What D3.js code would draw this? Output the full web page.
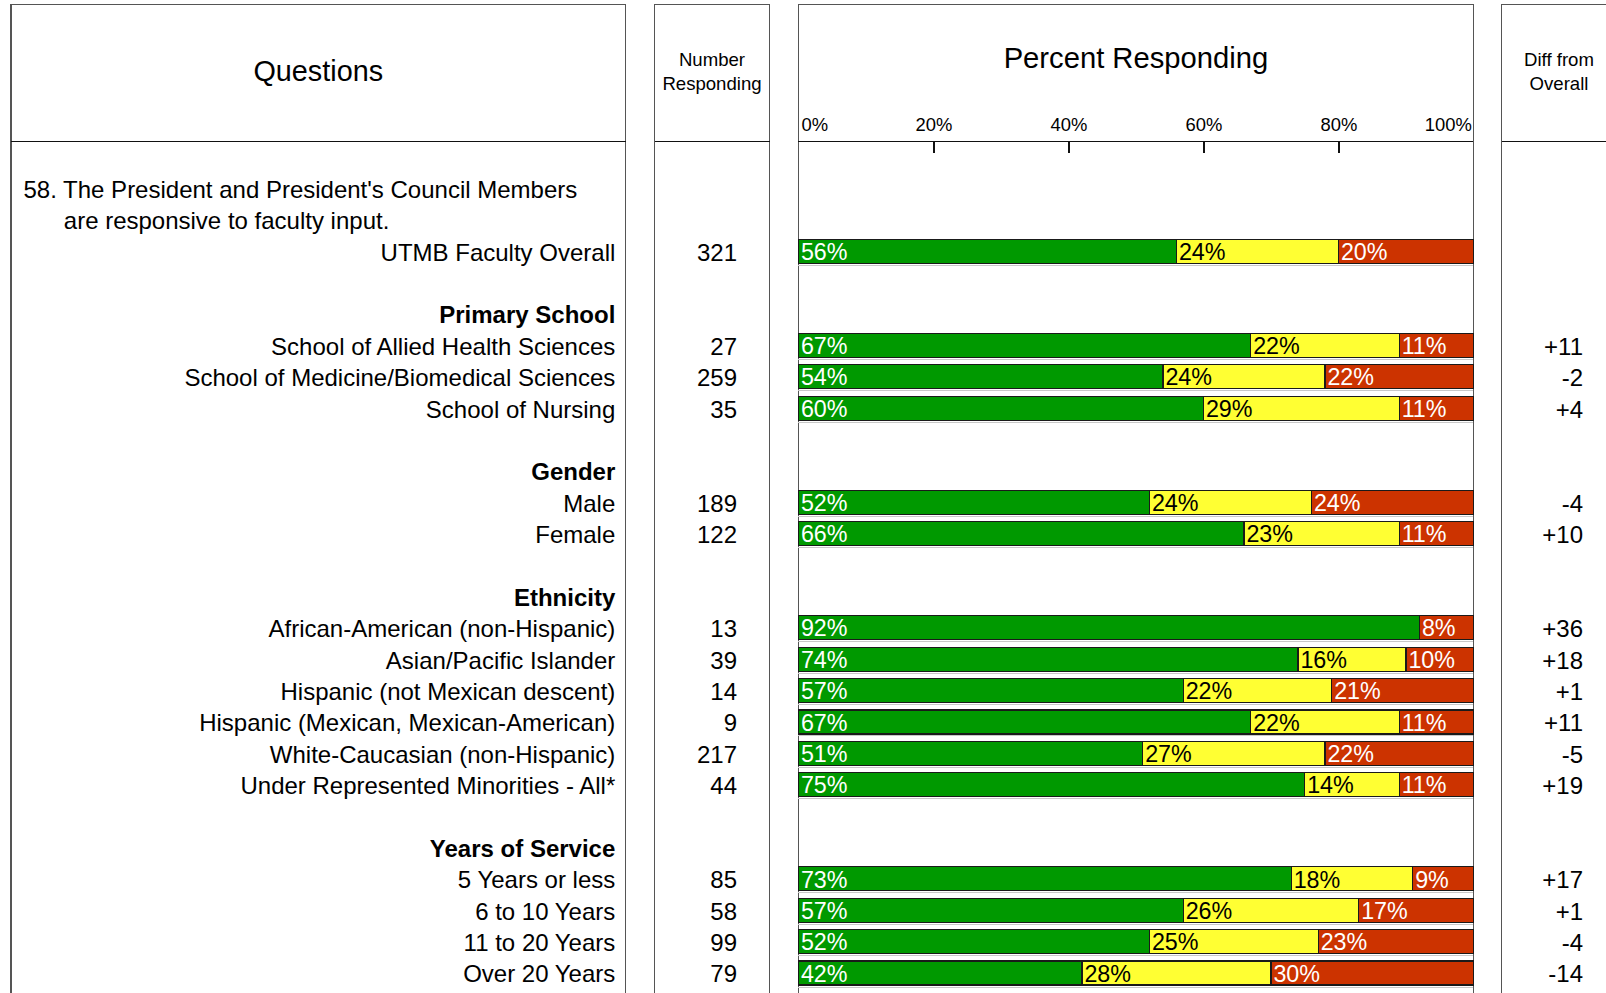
<!DOCTYPE html>
<html>
<head>
<meta charset="utf-8">
<script src="https://cdn.jsdelivr.net/npm/d3@7"></script>
<style>
  html, body { margin: 0; padding: 0; background: #fff; }
  svg { display: block; font-family: "Liberation Sans", Arial, sans-serif; }
</style>
</head>
<body>
<svg id="chart" width="1606" height="993"></svg>
<script>
// Survey item and response breakdown
const questionLines = [
  "58. The President and President's Council Members",
  "are responsive to faculty input."
];
const groupNames = ["Primary School", "Gender", "Ethnicity", "Years of Service"];
const categories = [
  "UTMB Faculty Overall",
  "School of Allied Health Sciences", "School of Medicine/Biomedical Sciences", "School of Nursing",
  "Male", "Female",
  "African-American (non-Hispanic)", "Asian/Pacific Islander", "Hispanic (not Mexican descent)",
  "Hispanic (Mexican, Mexican-American)", "White-Caucasian (non-Hispanic)", "Under Represented Minorities - All*",
  "5 Years or less", "6 to 10 Years", "11 to 20 Years", "Over 20 Years"
];
const categoryGroup = [
  null,
  "Primary School", "Primary School", "Primary School",
  "Gender", "Gender",
  "Ethnicity", "Ethnicity", "Ethnicity", "Ethnicity", "Ethnicity", "Ethnicity",
  "Years of Service", "Years of Service", "Years of Service", "Years of Service"
];
const respondents = [321, 27, 259, 35, 189, 122, 13, 39, 14, 9, 217, 44, 85, 58, 99, 79];
const favorable   = [56, 67, 54, 60, 52, 66, 92, 74, 57, 67, 51, 75, 73, 57, 52, 42];
const neutral     = [24, 22, 24, 29, 24, 23,  0, 16, 22, 22, 27, 14, 18, 26, 25, 28];
const unfavorable = [20, 11, 22, 11, 24, 11,  8, 10, 21, 11, 22, 11,  9, 17, 23, 30];
const diffFromOverall = ["", "+11", "-2", "+4", "-4", "+10", "+36", "+18", "+1", "+11", "-5", "+19", "+17", "+1", "-4", "-14"];
const percentTicks = [0, 20, 40, 60, 80, 100];

const segmentKeys = ["favorable", "neutral", "unfavorable"];
const segmentFill = { favorable: "#009900", neutral: "#FFFF33", unfavorable: "#CC3300" };
const segmentText = { favorable: "#ffffff", neutral: "#000000", unfavorable: "#ffffff" };

const svg = d3.select("#chart");
const FONT = 24;

// Panel geometry
const panels = {
  questions: { x0: 11, x1: 625.5 },
  number:    { x0: 654.5, x1: 769.5 },
  percent:   { x0: 798.4, x1: 1473.4 },
  diff:      { x0: 1501.8, x1: 1616 }
};
const panelTop = 4.7, headerLine = 141.7, panelBottom = 1000;

// Build the row layout: question lines, overall row, then group headers with their members
const layout = [];
questionLines.forEach((t, i) => layout.push({ type: "question", text: t, indent: i > 0 }));
categories.forEach((c, i) => {
  const g = categoryGroup[i];
  if (g && (i === 0 || categoryGroup[i - 1] !== g)) {
    layout.push({ type: "blank" });
    layout.push({ type: "group", text: g });
  }
  layout.push({ type: "item", index: i, text: c });
});
layout.forEach((r, i) => r.row = i);

const y = d3.scaleLinear().domain([0, 25]).range([188.5, 973]);
const x = d3.scaleLinear().domain([0, 100]).range([panels.percent.x0, panels.percent.x1]);

// Panel frames
const frames = svg.append("g").attr("shape-rendering", "crispEdges");
Object.values(panels).forEach(p => {
  frames.append("path")
    .attr("d", `M${p.x0},${panelBottom}V${panelTop}H${p.x1}V${panelBottom}`)
    .attr("fill", "none").attr("stroke", "#555").attr("stroke-width", 1.2);
  frames.append("line")
    .attr("x1", p.x0).attr("x2", p.x1).attr("y1", headerLine).attr("y2", headerLine)
    .attr("stroke", "#111").attr("stroke-width", 1.5);
});

// Headers
svg.append("text").attr("x", (panels.questions.x0 + panels.questions.x1) / 2).attr("y", 81)
  .attr("text-anchor", "middle").attr("font-size", 28.8).text("Questions");
svg.append("text").attr("x", (panels.percent.x0 + panels.percent.x1) / 2).attr("y", 68)
  .attr("text-anchor", "middle").attr("font-size", 29.2).text("Percent Responding");
[["Number", "Responding"]].forEach(lines => {
  const t = svg.append("text").attr("text-anchor", "middle").attr("font-size", 18.6);
  lines.forEach((l, i) => t.append("tspan").attr("x", (panels.number.x0 + panels.number.x1) / 2)
    .attr("y", 66 + i * 23.5).text(l));
});
[["Diff from", "Overall"]].forEach(lines => {
  const t = svg.append("text").attr("text-anchor", "middle").attr("font-size", 18.6);
  lines.forEach((l, i) => t.append("tspan").attr("x", 1559)
    .attr("y", 66 + i * 23.5).text(l));
});

// Percent axis: labels above the header line, ticks hanging below it
const labelAxis = d3.axisTop(x).tickValues(percentTicks).tickSize(0).tickPadding(10.5)
  .tickFormat(d => d + "%");
const gLabels = svg.append("g").attr("transform", `translate(0,${headerLine})`).call(labelAxis);
gLabels.select(".domain").remove();
gLabels.selectAll("text")
  .attr("font-family", "Liberation Sans, Arial, sans-serif")
  .attr("font-size", 18.4).attr("fill", "#000")
  .attr("text-anchor", d => d === 0 ? "start" : d === 100 ? "end" : "middle")
  .attr("dx", d => d === 0 ? 2.5 : d === 100 ? -2 : 0);

const tickAxis = d3.axisBottom(x).tickValues([20, 40, 60, 80]).tickSize(11).tickFormat("");
const gTicks = svg.append("g").attr("transform", `translate(0,${headerLine})`).call(tickAxis);
gTicks.select(".domain").remove();
gTicks.selectAll("line").attr("stroke", "#111").attr("stroke-width", 1.2).attr("shape-rendering", "crispEdges");

// Left column text
const labelRight = 615.3;
const textDy = 1;
const textRows = svg.append("g").attr("font-size", FONT).attr("fill", "#000");
layout.forEach(r => {
  const cy = y(r.row) + textDy;
  if (r.type === "question") {
    textRows.append("text").attr("x", r.indent ? 63.8 : 23.5).attr("y", cy).attr("dy", "0.35em").text(r.text);
  } else if (r.type === "group") {
    textRows.append("text").attr("x", labelRight).attr("y", cy).attr("dy", "0.35em")
      .attr("text-anchor", "end").attr("font-weight", "bold").text(r.text);
  } else if (r.type === "item") {
    textRows.append("text").attr("x", labelRight).attr("y", cy).attr("dy", "0.35em")
      .attr("text-anchor", "end").text(r.text);
    textRows.append("text").attr("x", 737).attr("y", cy).attr("dy", "0.35em")
      .attr("text-anchor", "end").text(respondents[r.index]);
    if (diffFromOverall[r.index]) {
      textRows.append("text").attr("x", 1583).attr("y", cy).attr("dy", "0.35em")
        .attr("text-anchor", "end").text(diffFromOverall[r.index]);
    }
  }
});

// Stacked bars
const items = layout.filter(r => r.type === "item").map(r => ({
  row: r.row,
  favorable: favorable[r.index],
  neutral: neutral[r.index],
  unfavorable: unfavorable[r.index]
}));
const stacked = d3.stack().keys(segmentKeys)(items);
const barH = 24;

const bars = svg.append("g");
// faint shadow under each bar
bars.selectAll("line.shadow").data(items).join("line")
  .attr("x1", x(0)).attr("x2", x(100))
  .attr("y1", d => y(d.row) + barH / 2 + 2).attr("y2", d => y(d.row) + barH / 2 + 2)
  .attr("stroke", "#c8c8c8").attr("stroke-width", 1).attr("shape-rendering", "crispEdges");

stacked.forEach(series => {
  const key = series.key;
  const segs = series.filter(s => s[1] - s[0] > 0);
  bars.selectAll(null).data(segs).join("rect")
    .attr("x", s => x(s[0])).attr("width", s => x(s[1]) - x(s[0]))
    .attr("y", s => y(s.data.row) - barH / 2).attr("height", barH)
    .attr("fill", segmentFill[key]).attr("stroke", "#1a1a1a").attr("stroke-width", 1.2)
    .attr("shape-rendering", "crispEdges");
  bars.selectAll(null).data(segs).join("text")
    .attr("x", s => x(s[0]) + 2.5).attr("y", s => y(s.data.row) + 0.5)
    .attr("dy", "0.35em").attr("font-size", 23.3).attr("fill", segmentText[key])
    .text(s => (s[1] - s[0]) + "%");
});
</script>
</body>
</html>
